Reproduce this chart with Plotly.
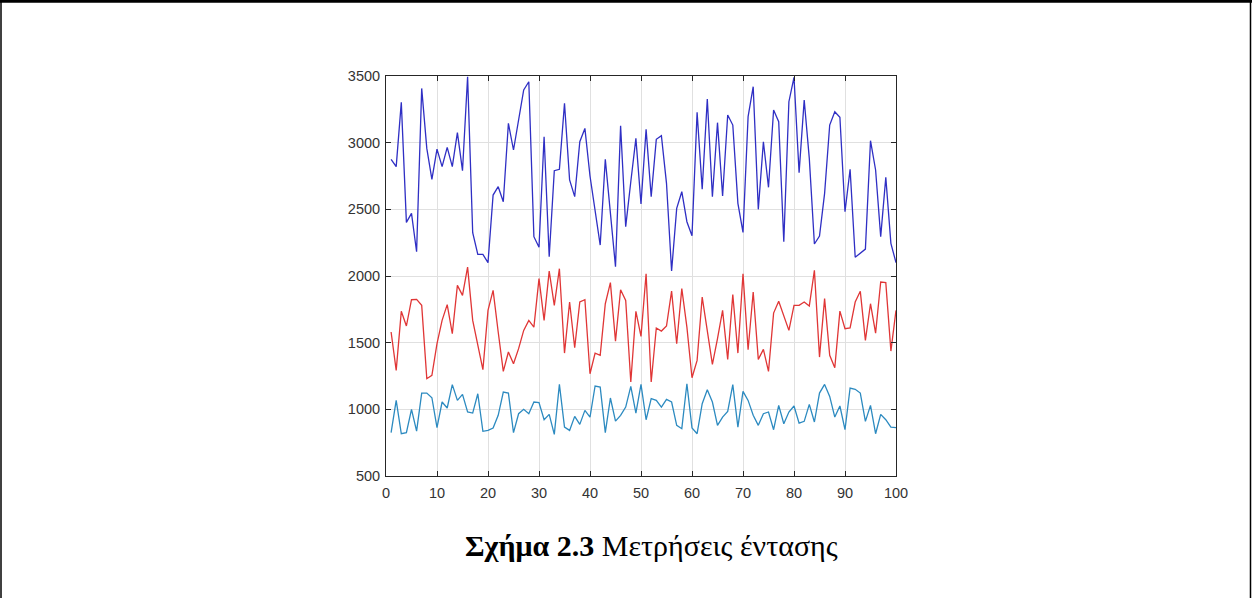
import plotly.graph_objects as go

x_values = list(range(1, 101))

blue_values = [
    2875, 2820, 3302, 2402, 2470, 2182, 3407, 2957, 2725, 2952,
    2820, 2965, 2820, 3075, 2790, 3495, 2325, 2162, 2162, 2100,
    2607, 2670, 2557, 3145, 2945, 3170, 3395, 3457, 2295, 2215,
    3045, 2145, 2790, 2800, 3295, 2720, 2595, 3007, 3107, 2750,
    2500, 2232, 2875, 2445, 2070, 3127, 2370, 2707, 3032, 2540,
    3100, 2595, 3025, 3052, 2695, 2037, 2507, 2632, 2407, 2302,
    3227, 2650, 3327, 2595, 3150, 2600, 3207, 3132, 2545, 2327,
    3195, 3420, 2500, 3007, 2665, 3245, 3157, 2257, 3307, 3490,
    2775, 3320, 2882, 2240, 2300, 2620, 3132, 3232, 3190, 2482,
    2800, 2140, 2170, 2202, 3015, 2795, 2295, 2740, 2245, 2100,
]

red_values = [
    1580, 1292, 1735, 1625, 1822, 1825, 1780, 1230, 1255, 1492,
    1667, 1785, 1567, 1930, 1855, 2067, 1667, 1480, 1297, 1742,
    1892, 1580, 1285, 1430, 1342, 1455, 1592, 1667, 1617, 1980,
    1667, 2037, 1780, 2055, 1422, 1805, 1462, 1805, 1822, 1267,
    1422, 1405, 1792, 1950, 1512, 1897, 1817, 1205, 1735, 1547,
    2017, 1205, 1610, 1587, 1625, 1887, 1492, 1905, 1617, 1237,
    1367, 1842, 1592, 1337, 1530, 1742, 1375, 1860, 1422, 2017,
    1447, 1880, 1375, 1450, 1285, 1722, 1810, 1705, 1592, 1780,
    1780, 1805, 1775, 2042, 1392, 1830, 1405, 1312, 1737, 1605,
    1610, 1805, 1885, 1517, 1792, 1572, 1955, 1950, 1437, 1742,
]

cyan_values = [
    825, 1067, 817, 825, 1000, 837, 1122, 1122, 1087, 862,
    1055, 1010, 1185, 1067, 1112, 980, 972, 1117, 835, 842,
    860, 955, 1130, 1122, 825, 967, 1000, 967, 1055, 1050,
    922, 962, 812, 1187, 867, 842, 947, 887, 992, 942,
    1175, 1167, 825, 1085, 912, 955, 1017, 1172, 972, 1187,
    922, 1080, 1067, 1017, 1075, 1055, 880, 855, 1192, 860,
    817, 1042, 1147, 1055, 880, 942, 985, 1185, 867, 1135,
    1067, 955, 880, 967, 980, 847, 1030, 892, 980, 1025,
    897, 910, 1037, 905, 1122, 1187, 1097, 942, 1025, 847,
    1160, 1150, 1122, 910, 1030, 817, 962, 922, 867, 862,
]

x_ticks = [0, 10, 20, 30, 40, 50, 60, 70, 80, 90, 100]
y_ticks = [500, 1000, 1500, 2000, 2500, 3000, 3500]

caption = "<b>Σχήμα 2.3</b> Μετρήσεις έντασης"

W, H = 1252, 598
L, R, T, B = 386, 896, 76, 476

fig = go.Figure()
fig.add_trace(go.Scatter(x=x_values, y=blue_values, mode="lines",
                         line=dict(color="#2f2fc4", width=1.3)))
fig.add_trace(go.Scatter(x=x_values, y=red_values, mode="lines",
                         line=dict(color="#e03636", width=1.3)))
fig.add_trace(go.Scatter(x=x_values, y=cyan_values, mode="lines",
                         line=dict(color="#2c8ac0", width=1.3)))

axis_common = dict(
    showgrid=True, gridcolor="#e0e0e0", gridwidth=1,
    showline=True, linecolor="#262626", linewidth=1, mirror="ticks",
    ticks="inside", ticklen=5, tickcolor="#262626",
    tickfont=dict(family="Liberation Sans, Arial", size=14.5, color="#333333"),
    zeroline=False, fixedrange=True,
)

fig.update_layout(
    width=W, height=H,
    margin=dict(l=L, r=W - R, t=T, b=H - B, pad=0),
    paper_bgcolor="white", plot_bgcolor="white",
    showlegend=False,
    xaxis=dict(range=[0, 100], tickvals=x_ticks, ticktext=[str(v) for v in x_ticks],
               ticklabelstandoff=4, **axis_common),
    yaxis=dict(range=[500, 3500], tickvals=y_ticks, ticktext=[str(v) for v in y_ticks],
               ticklabelstandoff=2, **axis_common),
)

pw, ph = R - L, B - T
def px(xp):
    return (xp - L) / pw
def py(yp):
    return (B - yp) / ph

# page border lines (top, left, right)
fig.add_shape(type="line", xref="paper", yref="paper", x0=px(0), x1=px(W), y0=py(1.2), y1=py(1.2),
              line=dict(color="black", width=3))
fig.add_shape(type="line", xref="paper", yref="paper", x0=px(1), x1=px(1), y0=py(0), y1=py(H),
              line=dict(color="black", width=1.5))
fig.add_shape(type="line", xref="paper", yref="paper", x0=px(W - 1.5), x1=px(W - 1.5), y0=py(0), y1=py(H),
              line=dict(color="black", width=1.5))

fig.add_annotation(
    xref="paper", yref="paper", x=px(651), y=py(545),
    text=caption,
    showarrow=False, xanchor="center", yanchor="middle",
    font=dict(family="Liberation Serif, Times New Roman", size=30, color="black"),
)

fig.write_html("out.html", config={"displayModeBar": False},
               post_script="document.body.style.margin='0px';document.body.style.overflow='hidden';")
